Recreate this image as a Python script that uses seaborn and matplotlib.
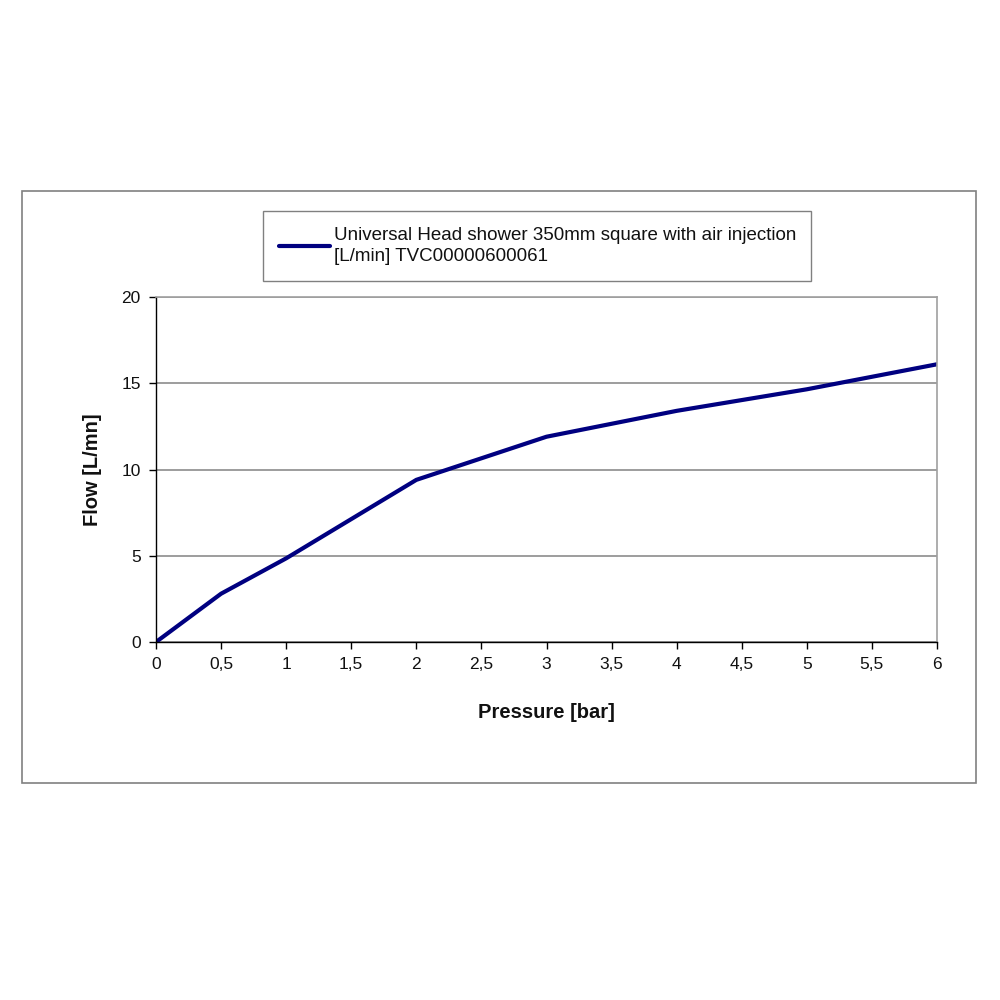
import seaborn as sns
import pandas as pd
import matplotlib.pyplot as plt
from matplotlib.patches import Rectangle


pressure = [0, 0.5, 1, 2, 3, 4, 5, 6]
flow = [0, 2.8, 4.85, 9.4, 11.9, 13.4, 14.65, 16.1]
series_label = "Universal Head shower 350mm square with air injection\n[L/min] TVC00000600061"

x_ticks = [0, 0.5, 1, 1.5, 2, 2.5, 3, 3.5, 4, 4.5, 5, 5.5, 6]
x_labels = ["0", "0,5", "1", "1,5", "2", "2,5", "3", "3,5", "4", "4,5", "5", "5,5", "6"]
y_ticks = [0, 5, 10, 15, 20]

sns.set_style("white")
plt.rcParams['font.family'] = ['Liberation Sans', 'DejaVu Sans']

df = pd.DataFrame({"Pressure": pressure, "Flow": flow})

fig = plt.figure(figsize=(10, 10), dpi=100)
fig.patch.set_facecolor("white")

# outer chart frame
fig.add_artist(Rectangle((0.022, 0.217), 0.954, 0.592, transform=fig.transFigure,
                         fill=False, edgecolor="#808080", linewidth=1.2))

ax = fig.add_axes([0.156, 0.358, 0.781, 0.345])

sns.lineplot(ax=ax, data=df, x="Pressure", y="Flow", color="#000080",
             linewidth=3, label=series_label)

ax.set_xlim(0, 6)
ax.set_ylim(0, 20)
ax.set_xticks(x_ticks)
ax.set_xticklabels(x_labels)
ax.set_yticks(y_ticks)
ax.tick_params(axis="both", direction="out", length=5, width=1, color="black",
               labelsize=12.5, pad=6, bottom=True, left=True, labelcolor="#111111")

ax.yaxis.grid(True, color="#8c8c8c", linewidth=1.2)
ax.xaxis.grid(False)
ax.set_axisbelow(True)

for side in ["top", "right"]:
    ax.spines[side].set_color("#a0a0a0")
    ax.spines[side].set_linewidth(1.2)
for side in ["left", "bottom"]:
    ax.spines[side].set_color("black")
    ax.spines[side].set_linewidth(1.0)

ax.set_xlabel("Pressure [bar]", fontsize=14.5, fontweight="bold", labelpad=22, color="#111111")
ax.set_ylabel("Flow [L/mn]", fontsize=14.5, fontweight="bold", labelpad=14, color="#111111")

ax.get_legend().remove()
leg = fig.legend(loc="upper left", bbox_to_anchor=(0.263, 0.719, 0.548, 0.07),
                 mode="expand", fontsize=13.5, handlelength=2.7, handletextpad=0.25,
                 frameon=True, fancybox=False, borderaxespad=0, borderpad=0.85)
leg.get_frame().set_edgecolor("#606060")
leg.get_frame().set_linewidth(1.0)
for t in leg.get_texts():
    t.set_linespacing(1.35)
    t.set_color("#111111")

fig.savefig("out.png", dpi=100)
